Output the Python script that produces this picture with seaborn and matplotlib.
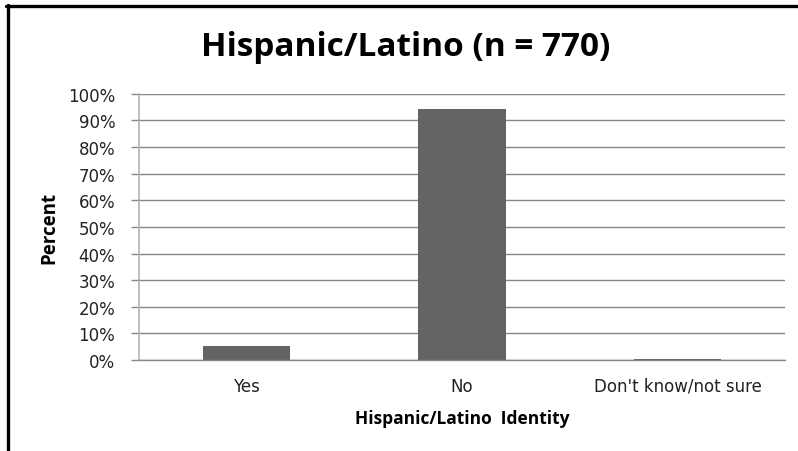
import pandas as pd
import matplotlib.pyplot as plt
import seaborn as sns
from matplotlib.lines import Line2D
from matplotlib.ticker import PercentFormatter

categories = ["Yes", "No", "Don't know/not sure"]
percents = [5.2, 94.4, 0.4]
y_ticks = [0, 10, 20, 30, 40, 50, 60, 70, 80, 90, 100]

data = pd.DataFrame({"identity": categories, "percent": percents})

sns.set_theme(style="white")
plt.rcParams["font.family"] = ["DejaVu Sans"]

fig = plt.figure(figsize=(7.98, 4.52), dpi=100)
ax = fig.add_axes([0.174, 0.2013, 0.81, 0.589])

sns.barplot(data=data, x="identity", y="percent", color="#646464",
            saturation=1, width=0.405, linewidth=0, ax=ax)

ax.set_ylim(0, 100)
ax.set_yticks(y_ticks)
ax.yaxis.set_major_formatter(PercentFormatter(decimals=0))
ax.grid(axis="y", color="#868686", linewidth=1.0)
ax.set_axisbelow(True)

for side in ["top", "right"]:
    ax.spines[side].set_visible(False)
ax.spines["left"].set_color("#b4b4b4")
ax.spines["left"].set_linewidth(1.2)
ax.spines["bottom"].set_color("#868686")
ax.spines["bottom"].set_linewidth(1.0)

ax.tick_params(axis="y", left=True, length=6, width=1.0, color="#868686",
               labelsize=12, labelcolor="#222222", pad=11)
ax.tick_params(axis="x", bottom=False, labelsize=12, labelcolor="#222222", pad=6)

ax.set_xlabel("Hispanic/Latino  Identity", fontsize=12.5, fontweight="bold",
              family=["Open Sans", "DejaVu Sans"], color="black", labelpad=10)
ax.set_ylabel("Percent", fontsize=13.5, fontweight="bold",
              family=["Open Sans", "DejaVu Sans"], color="black", labelpad=6)

fig.text(0.509, 0.894, "Hispanic/Latino (n = 770)", ha="center", va="center",
         fontsize=24, fontweight="bold", color="black",
         family=["Open Sans", "DejaVu Sans"])

# frame pieces along the top and left edges
fig.add_artist(Line2D([6 / 798, 1], [1 - 7 / 452, 1 - 7 / 452],
                      transform=fig.transFigure, color="black", linewidth=2.4))
fig.add_artist(Line2D([7.5 / 798, 7.5 / 798], [0, 1 - 6 / 452],
                      transform=fig.transFigure, color="black", linewidth=2.4))

fig.savefig("out.png", dpi=100)
